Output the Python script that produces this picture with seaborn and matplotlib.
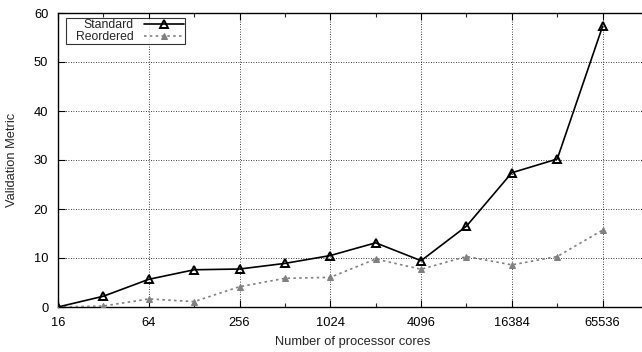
import numpy as np
import pandas as pd
import matplotlib
matplotlib.use("Agg")
import matplotlib.pyplot as plt
import seaborn as sns
from matplotlib.ticker import FixedLocator, NullFormatter
from matplotlib.offsetbox import DrawingArea

cores = [16, 32, 64, 128, 256, 512, 1024, 2048, 4096, 8192, 16384, 32768, 65536]
standard = [0.0, 2.2, 5.65, 7.6, 7.75, 8.9, 10.5, 13.1, 9.45, 16.5, 27.4, 30.2, 57.3]
reordered = [0.0, 0.2, 1.65, 1.1, 4.15, 5.85, 6.05, 9.8, 7.7, 10.3, 8.6, 10.3, 15.7]
major_ticks = [16, 64, 256, 1024, 4096, 16384, 65536]
minor_ticks = [32, 128, 512, 2048, 8192, 32768]
y_ticks = [0, 10, 20, 30, 40, 50, 60]

sns.set_style("ticks")
plt.rcParams['font.family'] = ['Liberation Sans', 'DejaVu Sans']

fig = plt.figure(figsize=(6.42, 3.52), dpi=100)
ax = fig.add_axes([58/642, 1-307/352, (648-58)/642, (307-13)/352])

df_s = pd.DataFrame({"cores": cores, "value": standard})
df_r = pd.DataFrame({"cores": cores, "value": reordered})

sns.lineplot(data=df_s, x="cores", y="value", ax=ax, color="black", lw=1.2,
             marker="^", markersize=6.2, markerfacecolor="none",
             markeredgecolor="black", markeredgewidth=1.4, label="Standard", zorder=4)
sns.lineplot(data=df_r, x="cores", y="value", ax=ax, color="#808080", lw=1.2,
             linestyle=(0, (1.5, 2)), marker="^", markersize=4.5,
             markerfacecolor="#808080", markeredgecolor="#808080", label="Reordered", zorder=3)

ax.set_xscale("log", base=2)
ax.set_xlim(16, 131072)
ax.set_ylim(0, 60)
ax.xaxis.set_major_locator(FixedLocator(major_ticks))
ax.set_xticklabels([str(t) for t in major_ticks])
ax.xaxis.set_minor_locator(FixedLocator(minor_ticks))
ax.xaxis.set_minor_formatter(NullFormatter())
ax.set_yticks(y_ticks)
ax.set_yticklabels([str(t) for t in y_ticks])

ax.grid(True, which="major", color="black", linestyle=(0, (1, 2)), linewidth=0.6)
ax.tick_params(axis="both", which="major", direction="in", length=5, width=0.8,
               top=True, right=True, labelsize=9.3, colors="black")
ax.tick_params(axis="x", which="major", pad=7)
ax.tick_params(axis="y", which="major", pad=7)
ax.tick_params(axis="both", which="minor", direction="in", length=3, width=0.8,
               top=True, right=True)
for s in ax.spines.values():
    s.set_color("black")
    s.set_linewidth(1.0)

ax.set_xlabel("Number of processor cores", fontsize=9.3, labelpad=5)
ax.set_ylabel("Validation Metric", fontsize=9.3)
ax.yaxis.set_label_coords(-(58-18)/590, 0.5)

leg = ax.legend(loc="upper left", bbox_to_anchor=(8/590, 1-5/294), borderaxespad=0,
                markerfirst=False, frameon=True, fancybox=False, edgecolor="black",
                fontsize=8.8, handlelength=3.2, borderpad=0.1, labelspacing=0.0,
                handletextpad=0.85)
leg.get_frame().set_linewidth(0.8)
for t in leg.get_texts():
    t.set_ha("right")
# extra left padding inside the legend box (gnuplot style key)
leg._legend_handle_box.get_children().insert(0, DrawingArea(6.5, 1))
leg._legend_handle_box.sep = 0

fig.savefig("out.png", dpi=100)
